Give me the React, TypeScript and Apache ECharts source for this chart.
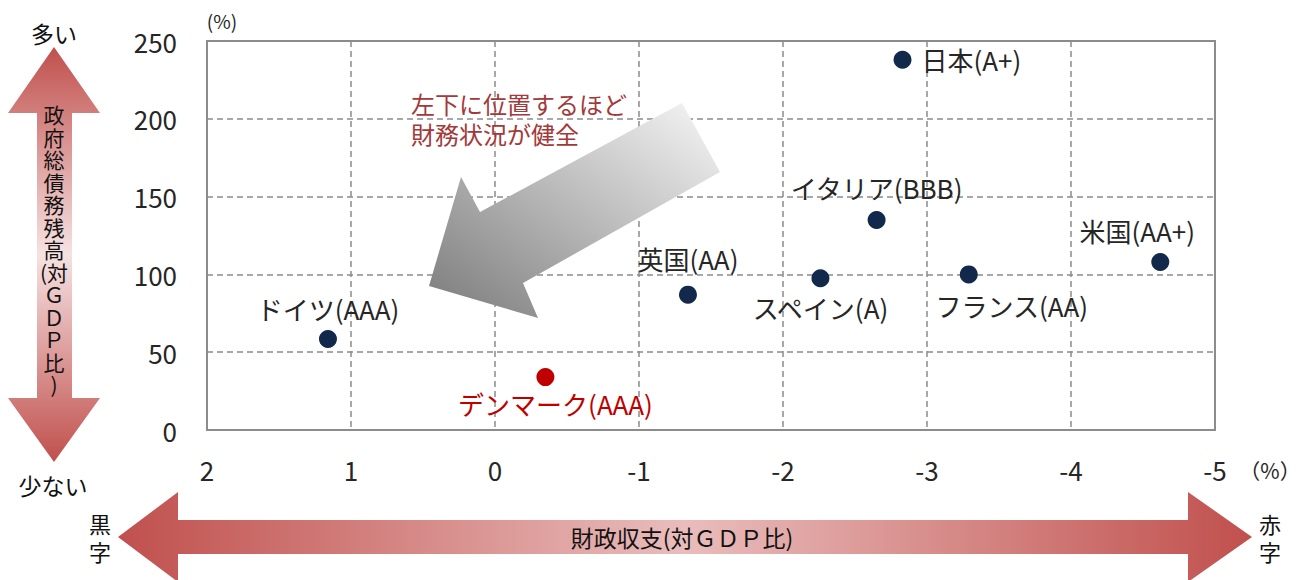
import React, { useEffect, useRef } from "react";
import * as echarts from "echarts";

const countries = ["日本(A+)", "イタリア(BBB)", "米国(AA+)", "英国(AA)", "スペイン(A)", "フランス(AA)", "ドイツ(AAA)", "デンマーク(AAA)"];
const fiscalBalance = [-2.83, -2.65, -4.62, -1.34, -2.26, -3.29, 1.16, -0.35];
const debtRatio = [238, 135, 108, 87, 97.5, 100, 58.5, 34];
const xTicks = { min: -5, max: 2, interval: 1 };
const yTicks = { min: 0, max: 250, interval: 50 };

const FONT = '"Noto Sans CJK JP", "Noto Sans", sans-serif';
const NAVY = "#13294b";
const RED = "#c00000";

const labelCfg: any[] = [
  { position: "right", distance: 10 },
  { position: "top", distance: 10 },
  { position: "top", distance: 9, offset: [-23, 0] },
  { position: "top", distance: 14 },
  { position: "bottom", distance: 7 },
  { position: "bottom", distance: 9, offset: [43, 0] },
  { position: "top", distance: 8 },
  { position: "bottom", distance: 4, offset: [10, 0] },
];

export default function App() {
  const ref = useRef<HTMLDivElement>(null);
  useEffect(() => {
    if (!ref.current) return;
    const chart = echarts.init(ref.current, undefined, { renderer: "svg" });
    const data = countries.map((name, i) => {
      const isDk = i === countries.length - 1;
      return {
        name,
        value: [fiscalBalance[i], debtRatio[i]],
        itemStyle: { color: isDk ? RED : NAVY, opacity: 1 },
        label: {
          show: true,
          formatter: name,
          fontSize: 26,
          fontFamily: FONT,
          color: isDk ? RED : "#262626",
          ...labelCfg[i],
        },
      };
    });
    const vArrow = [
      [54, 47], [100, 113], [72, 113], [72, 398], [100, 398], [54, 462],
      [8, 398], [37, 398], [37, 113], [8, 113],
    ];
    const hArrow = [
      [118, 537], [178, 492], [178, 520], [1188, 520], [1188, 492], [1252, 537],
      [1188, 582], [1188, 554], [178, 554], [178, 582],
    ];
    const dArrow = [
      [682, 103], [720, 172], [523, 283], [538, 318], [429, 286], [461, 177], [480, 212],
    ];
    const vChars = ["政", "府", "総", "債", "務", "残", "高", "(対", "Ｇ", "Ｄ", "Ｐ", "比", ")"];
    const vTextEls = vChars.map((ch, i) => ({
      type: "text", z: 11, x: 54, y: 114 + i * 22.5,
      style: {
        text: ch, fontSize: 21, lineHeight: 22, fontFamily: FONT, fill: "#111",
        align: "center", verticalAlign: "middle",
      },
    }));
    chart.setOption({
      animation: false,
      textStyle: { fontFamily: FONT },
      grid: {
        left: 207, right: 86, top: 41, bottom: 150,
        show: true, borderColor: "#8c8c8c", borderWidth: 2, backgroundColor: "transparent",
      },
      xAxis: {
        type: "value",
        inverse: true,
        min: xTicks.min, max: xTicks.max, interval: xTicks.interval,
        axisLine: { show: true, onZero: false, lineStyle: { color: "#8c8c8c", width: 2 } },
        axisTick: { show: false },
        axisLabel: { margin: 26, fontSize: 26, color: "#262626", fontFamily: FONT },
        splitLine: { show: true, lineStyle: { color: "#8c8c8c", width: 1.5, type: [6, 4] } },
      },
      yAxis: {
        type: "value",
        min: yTicks.min, max: yTicks.max, interval: yTicks.interval,
        axisLine: { show: true, onZero: false, lineStyle: { color: "#8c8c8c", width: 2 } },
        axisTick: { show: false },
        axisLabel: { margin: 30, fontSize: 26, color: "#262626", fontFamily: FONT },
        splitLine: { show: true, lineStyle: { color: "#8c8c8c", width: 1.5, type: [6, 4] } },
      },
      series: [
        {
          type: "scatter",
          symbol: "circle",
          symbolSize: 18,
          data,
          z: 5,
        },
      ],
      graphic: [
        {
          type: "polygon",
          z: 10,
          shape: { points: vArrow },
          style: {
            fill: {
              type: "linear", x: 0, y: 0, x2: 0, y2: 1,
              colorStops: [
                { offset: 0, color: "#c0504d" },
                { offset: 0.5, color: "#f6e2e2" },
                { offset: 1, color: "#c0504d" },
              ],
            },
          },
        },
        {
          type: "polygon",
          z: 10,
          shape: { points: hArrow },
          style: {
            fill: {
              type: "linear", x: 0, y: 0, x2: 1, y2: 0,
              colorStops: [
                { offset: 0, color: "#c0504d" },
                { offset: 0.5, color: "#e9bdbc" },
                { offset: 1, color: "#c0504d" },
              ],
            },
          },
        },
        {
          type: "polygon",
          z: 10,
          shape: { points: dArrow },
          style: {
            fill: {
              type: "linear", x: 1, y: 0, x2: 0, y2: 1,
              colorStops: [
                { offset: 0, color: "#f7f7f7" },
                { offset: 1, color: "#7a7a7a" },
              ],
            },
          },
        },
        ...vTextEls,
        {
          type: "text", z: 11, x: 54, y: 33,
          style: { text: "多い", fontSize: 23, fontFamily: FONT, fill: "#111", align: "center", verticalAlign: "middle" },
        },
        {
          type: "text", z: 11, x: 53, y: 485,
          style: { text: "少ない", fontSize: 23, fontFamily: FONT, fill: "#111", align: "center", verticalAlign: "middle" },
        },
        {
          type: "text", z: 11, x: 100, y: 537,
          style: { text: "黒\n字", fontSize: 22, lineHeight: 28, fontFamily: FONT, fill: "#111", align: "center", verticalAlign: "middle" },
        },
        {
          type: "text", z: 11, x: 1270, y: 537,
          style: { text: "赤\n字", fontSize: 22, lineHeight: 28, fontFamily: FONT, fill: "#111", align: "center", verticalAlign: "middle" },
        },
        {
          type: "text", z: 11, x: 682, y: 537,
          style: { text: "財政収支(対ＧＤＰ比)", fontSize: 23, fontFamily: FONT, fill: "#111", align: "center", verticalAlign: "middle" },
        },
        {
          type: "text", z: 11, x: 222, y: 20,
          style: { text: "(%)", fontSize: 19, fontFamily: FONT, fill: "#262626", align: "center", verticalAlign: "middle" },
        },
        {
          type: "text", z: 11, x: 1270, y: 470,
          style: { text: "（%）", fontSize: 21, fontFamily: FONT, fill: "#262626", align: "center", verticalAlign: "middle" },
        },
        {
          type: "text", z: 11, x: 411, y: 118,
          style: {
            text: "左下に位置するほど\n財務状況が健全", fontSize: 24, lineHeight: 30, fontFamily: FONT,
            fill: "#a33a3a", align: "left", verticalAlign: "middle",
          },
        },
      ],
    });
    return () => chart.dispose();
  }, []);
  return (
    <div
      ref={ref}
      style={{ position: "fixed", left: 0, top: 0, width: 1301, height: 580, background: "#fff" }}
    />
  );
}
